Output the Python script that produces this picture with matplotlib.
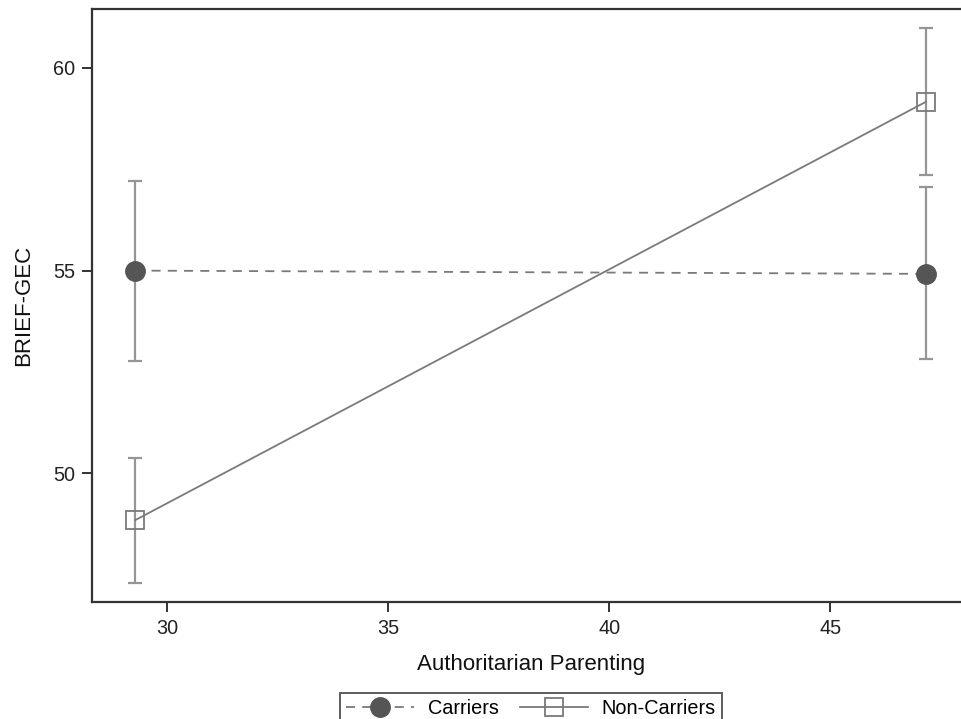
import numpy as np
import matplotlib.pyplot as plt

plt.rcParams['font.family'] = ['Liberation Sans', 'DejaVu Sans']

# values
x = [29.28, 47.16]
carriers = [55.0, 54.92]
carriers_lo = [52.76, 52.81]
carriers_hi = [57.2, 57.05]
noncarriers = [48.85, 59.16]
noncarriers_lo = [47.30, 57.35]
noncarriers_hi = [50.38, 60.98]

fig = plt.figure(figsize=(9.61, 7.19), dpi=100)
ax = fig.add_axes([0.0957, 0.1627, 1.0094 - 0.0957, 0.9875 - 0.1627])

c_err = np.array([np.subtract(carriers, carriers_lo), np.subtract(carriers_hi, carriers)])
n_err = np.array([np.subtract(noncarriers, noncarriers_lo), np.subtract(noncarriers_hi, noncarriers)])

ax.errorbar(x, carriers, yerr=c_err, fmt='none', ecolor='#959595', elinewidth=1.6, capsize=5, capthick=1.6)
ax.errorbar(x, noncarriers, yerr=n_err, fmt='none', ecolor='#959595', elinewidth=1.6, capsize=5, capthick=1.6)

ax.plot(x, carriers, color='#7a7a7a', linestyle=(0, (5, 4)), linewidth=1.3,
        marker='o', markersize=14, markerfacecolor='#555555', markeredgecolor='#555555',
        label='Carriers')
ax.plot(x, noncarriers, color='#7a7a7a', linestyle='-', linewidth=1.3,
        marker='s', markersize=13, markerfacecolor='none', markeredgecolor='#7a7a7a',
        markeredgewidth=1.3, label='Non-Carriers')

ax.set_xlim(28.30, 48.16)
ax.set_ylim(46.83, 61.45)
ax.set_xticks([30, 35, 40, 45])
ax.set_yticks([50, 55, 60])

for s in ['left', 'bottom', 'top']:
    ax.spines[s].set_color('#333333')
    ax.spines[s].set_linewidth(1.6)
ax.spines['right'].set_visible(False)
ax.tick_params(direction='out', length=7, width=1.4, color='#333333',
               labelsize=14.3, labelcolor='#222222', pad=5)

ax.set_xlabel('Authoritarian Parenting', fontsize=16, color='#111111', labelpad=12)
ax.set_ylabel('BRIEF-GEC', fontsize=16, color='#111111', labelpad=14)

leg = fig.legend(loc='upper center', bbox_to_anchor=(531 / 961, 1 - 693 / 719), ncol=2,
                 fontsize=14.3, frameon=True, fancybox=False, handlelength=3.4,
                 columnspacing=1.1, handletextpad=0.7, borderpad=0.3, borderaxespad=0)
leg.get_frame().set_edgecolor('#333333')
leg.get_frame().set_linewidth(1.4)

fig.savefig('out.png', dpi=100)
